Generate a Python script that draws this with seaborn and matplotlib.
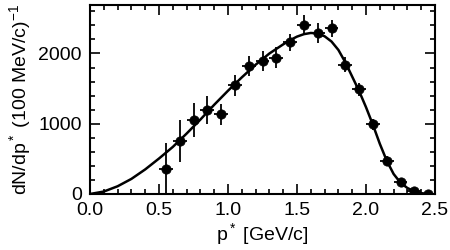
import numpy as np
import pandas as pd
import seaborn as sns
import matplotlib.pyplot as plt
from matplotlib.ticker import MultipleLocator

# measured points (bin centres, counts per 100 MeV/c, stat errors)
p_star = [0.55, 0.65, 0.75, 0.85, 0.95, 1.05, 1.15, 1.25, 1.35, 1.45,
          1.55, 1.65, 1.75, 1.85, 1.95, 2.05, 2.15, 2.25, 2.35, 2.45]
counts = [350, 752, 1050, 1200, 1135, 1548, 1819, 1890, 1938, 2160,
          2405, 2290, 2358, 1843, 1488, 990, 474, 165, 40, 3]
count_err = [380, 300, 240, 200, 150, 150, 140, 140, 150, 120,
             140, 145, 125, 100, 95, 80, 60, 40, 25, 15]
bin_half = 0.05

# fitted spectrum
fit_p = [0.0, 0.1, 0.2, 0.3, 0.4, 0.5, 0.6, 0.7, 0.8, 0.9, 1.0, 1.1, 1.2,
         1.3, 1.4, 1.45, 1.5, 1.55, 1.6, 1.65, 1.7, 1.75, 1.8, 1.85, 1.9,
         1.95, 2.0, 2.05, 2.1, 2.15, 2.2, 2.25, 2.3, 2.35, 2.4, 2.45]
fit_n = [0, 35, 110, 215, 350, 505, 670, 860, 1060, 1270, 1470, 1660, 1840,
         2000, 2130, 2190, 2240, 2275, 2292, 2285, 2245, 2170, 2050, 1875, 1670,
         1465, 1235, 985, 715, 475, 285, 160, 85, 38, 12, 0]

pts = pd.DataFrame({'p': p_star, 'n': counts})
fit = pd.DataFrame({'p': fit_p, 'n': fit_n})

sns.set_style("ticks", {'axes.edgecolor': 'black', 'text.color': 'black',
                        'xtick.color': 'black', 'ytick.color': 'black',
                        'axes.labelcolor': 'black'})
plt.rcParams['font.family'] = ['Liberation Sans', 'DejaVu Sans']
plt.rcParams['mathtext.fontset'] = 'custom'
plt.rcParams['mathtext.rm'] = 'Liberation Sans'
plt.rcParams['mathtext.it'] = 'Liberation Sans'

fig = plt.figure(figsize=(4.5, 2.5), dpi=100)
ax = fig.add_axes([0.2, 0.224, 0.7667, 0.756])

sns.lineplot(data=fit, x='p', y='n', color='black', linewidth=1.8, ax=ax)
ax.errorbar(p_star, counts, xerr=bin_half, yerr=count_err, fmt='none',
            ecolor='black', elinewidth=1.3, capsize=0)
sns.scatterplot(data=pts, x='p', y='n', color='black', s=45,
                edgecolor='black', zorder=5, ax=ax)

ax.set_xlim(0, 2.5)
ax.set_ylim(0, 2690)
ax.xaxis.set_minor_locator(MultipleLocator(0.1))
ax.yaxis.set_major_locator(MultipleLocator(1000))
ax.yaxis.set_minor_locator(MultipleLocator(200))
ax.set_xticks([0, 0.5, 1.0, 1.5, 2.0, 2.5], ['0.0', '0.5', '1.0', '1.5', '2.0', '2.5'])
ax.tick_params(which='both', direction='in', top=True, right=True,
               labelsize=14, width=1.2, colors='black')
ax.tick_params(which='major', length=7, pad=6)
ax.tick_params(which='minor', length=3.6)
for s in ax.spines.values():
    s.set_linewidth(1.5)
    s.set_color('black')

ax.set_xlabel(r'p$^*$ [GeV/c]', fontsize=14, labelpad=1, color='black')
ax.set_ylabel(r'dN/dp$^*$ (100 MeV/c)$^{-1}$', fontsize=14, labelpad=4, color='black')

fig.savefig('out.png', dpi=100)
